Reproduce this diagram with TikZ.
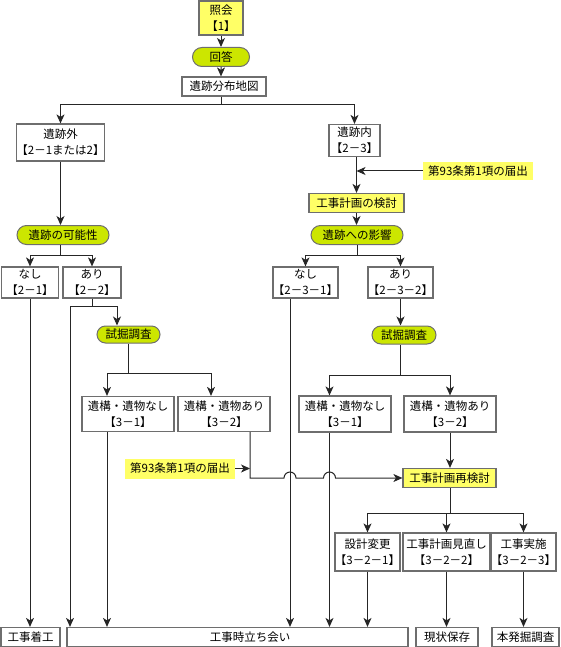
\documentclass[tikz,border=0pt]{standalone}
\usepackage{fontspec}
\setmainfont{Noto Sans CJK JP}
\usetikzlibrary{arrows.meta,shapes.misc}
\definecolor{memoyellow}{RGB}{255,255,102}
\definecolor{ovalgreen}{RGB}{204,230,0}
\definecolor{rim}{RGB}{110,110,110}

\begin{document}
\begin{tikzpicture}[x=1pt,y=-1pt,
    every node/.style={font=\fontsize{11.5}{16}\selectfont, align=center, inner sep=0pt},
    box/.style={draw=rim, line width=1.2pt, fill=white},
    kbox/.style={box, fill=memoyellow},
    oval/.style={rounded rectangle, draw=rim, line width=1pt, fill=ovalgreen},
    note/.style={fill=memoyellow},
    line/.style={line width=1pt, draw=black!85},
    arr/.style={line, -{Stealth[length=9pt,width=8pt,inset=2.5pt]}}]
    \useasboundingbox (0,0) rectangle (560,647);

    \node[kbox, minimum width=44pt, minimum height=34pt] (shokai) at (221,18) {照会\\【1】};
    \node[oval, minimum width=57pt, minimum height=19pt] (kaito) at (221,57) {回答};
    \node[box, minimum width=84pt, minimum height=19pt] (bunpu) at (224,86.5) {遺跡分布地図};
    \node[box, minimum width=85pt, minimum height=37pt] (gai) at (60.5,142.5) {遺跡外\\【2－1または2】};
    \node[box, minimum width=51pt, minimum height=32pt] (nai) at (354.5,140.5) {遺跡内\\【2－3】};
    \node[note, minimum width=110pt, minimum height=18pt] (todoke1) at (478,171) {第93条第1項の届出};
    \node[kbox, minimum width=95pt, minimum height=19pt] (kento) at (356.5,203) {工事計画の検討};
    \node[oval, minimum width=92pt, minimum height=19pt] (eikyo) at (357,235) {遺跡への影響};
    \node[oval, minimum width=92pt, minimum height=19pt] (kanosei) at (63,235) {遺跡の可能性};
    \node[box, minimum width=57pt, minimum height=31pt] (nashi1) at (30,282.5) {なし\\【2－1】};
    \node[box, minimum width=58pt, minimum height=31pt] (ari1) at (92,282.5) {あり\\【2－2】};
    \node[box, minimum width=63pt, minimum height=31pt] (nashi2) at (305.5,282.5) {なし\\【2－3－1】};
    \node[box, minimum width=63pt, minimum height=31pt] (ari2) at (400.5,282.5) {あり\\【2－3－2】};
    \node[oval, minimum width=63pt, minimum height=17pt] (shikutsu1) at (128.5,334.5) {試掘調査};
    \node[oval, minimum width=64pt, minimum height=18pt] (shikutsu2) at (404,335) {試掘調査};
    \node[box, minimum width=92pt, minimum height=35pt] (mushi1) at (128,414) {遺構・遺物なし\\【3－1】};
    \node[box, minimum width=92pt, minimum height=35pt] (yushi1) at (224,414) {遺構・遺物あり\\【3－2】};
    \node[box, minimum width=92pt, minimum height=36pt] (mushi2) at (345,414) {遺構・遺物なし\\【3－1】};
    \node[box, minimum width=92pt, minimum height=36pt] (yushi2) at (450,414) {遺構・遺物あり\\【3－2】};
    \node[note, minimum width=110pt, minimum height=20pt] (todoke2) at (180,468.5) {第93条第1項の届出};
    \node[kbox, minimum width=93pt, minimum height=19pt] (saikento) at (449.5,478) {工事計画再検討};
    \node[box, minimum width=59pt, minimum height=38pt] (henko) at (367.5,552) {設計変更\\【3－2－1】};
    \node[box, minimum width=87pt, minimum height=38pt] (minaoshi) at (446.5,552) {工事計画見直し\\【3－2－2】};
    \node[box, minimum width=61pt, minimum height=38pt] (jisshi) at (523.5,552) {工事実施\\【3－2－3】};
    \node[box, minimum width=59pt, minimum height=19pt] (chakko) at (30.5,637) {工事着工};
    \node[box, minimum width=341pt, minimum height=19pt] (tachiai) at (237.5,637) {\hspace*{25pt}工事時立ち会い};
    \node[box, minimum width=62pt, minimum height=19pt] (hozon) at (447,637) {現状保存};
    \node[box, minimum width=67pt, minimum height=19pt] (honchosa) at (525.5,637) {本発掘調査};

    \coordinate (laneA) at ([xshift=-167.5pt]tachiai.north);
    \coordinate (laneB) at ([xshift=-21pt]mushi1.south);
    \coordinate (laneC) at ([xshift=26pt]yushi1.south);
    \coordinate (laneD) at ([xshift=-15.5pt]nashi2.south);
    \coordinate (laneE) at ([xshift=-15.5pt]mushi2.south);

    \draw[arr] (shokai) -- (kaito);
    \draw[arr] (kaito) -- (kaito |- bunpu.north);
    \draw[line] (kaito |- bunpu.south) -- ++(0,8) coordinate (fork0);
    \draw[arr] (fork0) -| (gai.north);
    \draw[arr] (fork0) -| (nai.north);

    \draw[arr] (gai.south) -- (gai.south |- kanosei.north);
    \draw[line] (gai.south |- kanosei.south) -- ++(0,10.5) coordinate (fork1);
    \draw[arr] (fork1) -| (nashi1.north);
    \draw[arr] (fork1) -| (ari1.north);
    \draw[arr] (nashi1.south) -- (nashi1.south |- chakko.north);
    \draw[line] (ari1.south) -- ++(0,7.5) coordinate (fork3);
    \draw[arr] (fork3) -| ([xshift=-11.5pt]shikutsu1.north);
    \draw[arr] (fork3) -| (laneA);
    \draw[line] (shikutsu1.south) -- ++(0,30) coordinate (fork4);
    \draw[arr] (fork4) -| ([xshift=-21pt]mushi1.north);
    \draw[arr] (fork4) -| ([xshift=-13pt]yushi1.north);
    \draw[arr] (laneB) -- (laneB |- tachiai.north);

    \draw[arr] (kento.north |- nai.south) -- (kento.north);
    \draw[arr] (todoke1.west) -- (kento.north |- todoke1.west);
    \draw[arr] (kento.south) -- (kento.south |- eikyo.north);
    \draw[line] (eikyo.south) -- ++(0,10.5) coordinate (fork2);
    \draw[arr] (fork2) -| (nashi2.north);
    \draw[arr] (fork2) -| (ari2.north);
    \draw[arr] (laneD) -- (laneD |- tachiai.north);
    \draw[arr] (ari2.south) -- (ari2.south |- shikutsu2.north);
    \draw[line] (ari2.south |- shikutsu2.south) -- ++(0,31) coordinate (fork5);
    \draw[arr] (fork5) -| ([xshift=-15.5pt]mushi2.north);
    \draw[arr] (fork5) -| (yushi2.north);
    \draw[arr] (laneE) -- (laneE |- tachiai.north);
    \draw[arr] (yushi2.south) -- (yushi2.south |- saikento.north);

    \coordinate (hop1) at (laneD |- saikento.west);
    \coordinate (hop2) at (laneE |- saikento.west);
    \draw[arr] (laneC) |- ([xshift=-6pt]hop1) arc[start angle=180, end angle=0, radius=6pt]
        -- ([xshift=-6pt]hop2) arc[start angle=180, end angle=0, radius=6pt] -- (saikento.west);
    \draw[arr] (todoke2.east) -- (laneC |- todoke2.east);

    \draw[line] (yushi2.south |- saikento.south) -- ++(0,25.5) coordinate (fork6);
    \draw[arr] (fork6) -| (henko.north);
    \draw[arr] (fork6) -| (minaoshi.north);
    \draw[arr] (fork6) -| (jisshi.north);
    \draw[arr] (henko.south) -- (henko.south |- tachiai.north);
    \draw[arr] (minaoshi.south) -- (minaoshi.south |- hozon.north);
    \draw[arr] (jisshi.south) -- (jisshi.south |- honchosa.north);
\end{tikzpicture}
\end{document}
